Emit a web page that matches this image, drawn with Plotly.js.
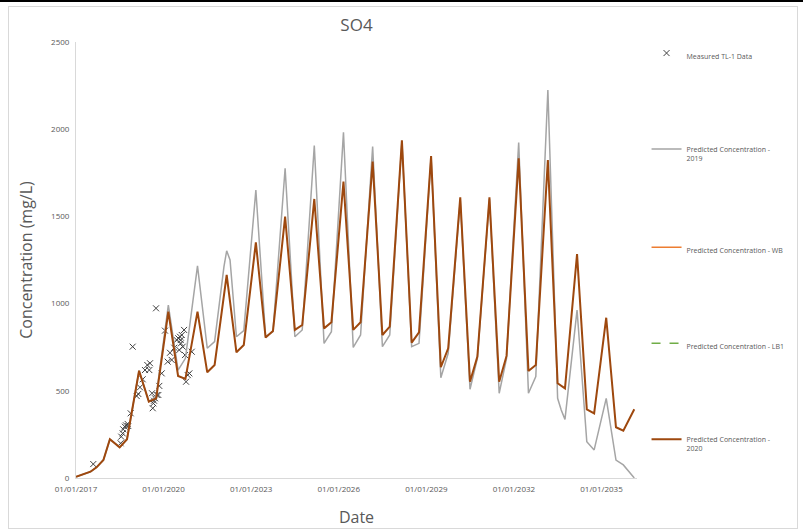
<!DOCTYPE html>
<html>
<head>
<meta charset="utf-8">
<script src="https://cdn.plot.ly/plotly-3.0.1.min.js"></script>
<style>
html,body{margin:0;padding:0;background:#fff;}
#wrap{position:relative;width:803px;height:529px;}
#chart{position:absolute;left:0;top:0;width:803px;height:529px;}
#topline{position:absolute;left:0;top:0;width:803px;height:2px;background:#000;pointer-events:none;}
#frame{position:absolute;left:8px;top:6px;width:788px;height:521px;border:1px solid #d9d9d9;pointer-events:none;}
</style>
</head>
<body>
<div id="wrap">
<div id="chart"></div>
<div id="frame"></div>
<div id="topline"></div>
</div>
<script>
// Measured TL-1 data
const measuredDates = ["2017-08-05","2018-07-13","2018-07-21","2018-08-08","2018-08-15","2018-09-05","2018-09-18","2018-10-09","2018-10-17","2018-11-16","2018-12-11","2019-01-30","2019-02-19","2019-03-12","2019-04-15","2019-05-14","2019-06-12","2019-07-16","2019-07-07","2019-08-10","2019-08-19","2019-08-27","2019-09-04","2019-09-17","2019-10-08","2019-10-28","2019-09-29","2019-11-09","2019-12-09","2020-01-19","2020-02-22","2020-03-22","2020-04-12","2020-05-15","2020-06-14","2020-07-04","2020-07-25","2020-08-03","2020-08-16","2020-09-14","2020-08-28","2020-09-26","2020-10-09","2020-10-30","2020-11-19","2020-12-19","2020-07-16","2020-08-05"];
const measuredValues = [80,199,237,256,279,294,302,310,298,371,753,470,482,520,566,619,648,658,619,486,400,428,443,457,476,476,973,528,600,845,667,718,677,747,791,801,810,791,820,849,753,705,552,590,600,724,734,772];

// Predicted Concentration - 2019
const pred2019Dates = ["2017-01-01","2017-07-01","2017-09-15","2017-12-10","2018-03-01","2018-07-01","2018-10-01","2019-03-01","2019-07-01","2019-10-01","2020-03-01","2020-07-01","2020-10-01","2021-03-01","2021-07-01","2021-10-01","2022-01-26","2022-03-01","2022-04-12","2022-07-01","2022-10-01","2023-03-01","2023-07-01","2023-10-01","2024-03-01","2024-07-01","2024-10-01","2025-03-01","2025-07-01","2025-10-01","2026-03-01","2026-07-01","2026-10-01","2027-03-01","2027-07-01","2027-10-01","2028-03-01","2028-07-01","2028-10-01","2029-03-01","2029-07-01","2029-10-01","2030-03-01","2030-07-01","2030-10-01","2031-03-01","2031-07-01","2031-10-01","2032-03-01","2032-07-01","2032-10-01","2033-03-01","2033-07-01","2033-08-15","2033-10-01","2034-03-01","2034-07-01","2034-10-01","2035-03-01","2035-07-01","2035-10-01","2036-02-15"];
const pred2019Values = [7,36,61,103,222,176,222,615,438,470,992,619,686,1216,744,782,1212,1303,1250,810,845,1651,810,839,1776,810,849,1906,772,839,1982,749,820,1900,753,820,1930,753,772,1840,575,715,1595,509,686,1600,486,686,1923,486,581,2225,457,390,336,963,208,161,457,103,75,0];

// Predicted Concentration - WB and LB1 (listed in legend, no values drawn in the plot)
const predWBDates = [null];
const predWBValues = [null];
const predLB1Dates = [null];
const predLB1Values = [null];

// Predicted Concentration - 2020
const pred2020Dates = ["2017-01-01","2017-07-01","2017-09-15","2017-12-10","2018-03-01","2018-07-01","2018-10-01","2019-03-01","2019-07-01","2019-10-01","2020-03-01","2020-07-01","2020-10-01","2021-03-01","2021-07-01","2021-10-01","2022-03-01","2022-07-01","2022-10-01","2023-03-01","2023-07-01","2023-10-01","2024-03-01","2024-07-01","2024-10-01","2025-03-01","2025-07-01","2025-10-01","2026-03-01","2026-07-01","2026-10-01","2027-03-01","2027-07-01","2027-10-01","2028-03-01","2028-07-01","2028-10-01","2029-03-01","2029-07-01","2029-10-01","2030-03-01","2030-07-01","2030-10-01","2031-03-01","2031-07-01","2031-10-01","2032-03-01","2032-07-01","2032-10-01","2033-03-01","2033-07-01","2033-10-01","2034-03-01","2034-07-01","2034-10-01","2035-03-01","2035-07-01","2035-10-01","2036-02-15"];
const pred2020Values = [7,36,61,103,222,176,222,615,438,457,954,585,568,954,606,648,1164,721,763,1351,805,843,1499,849,877,1600,858,893,1699,849,893,1814,820,868,1936,776,835,1846,635,744,1609,552,696,1609,552,700,1833,614,648,1823,543,514,1284,394,371,919,291,271,394];

const seriesNames = ["Measured TL-1 Data","Predicted Concentration -<br>2019","Predicted Concentration - WB","Predicted Concentration - LB1","Predicted Concentration -<br>2020"];

const FONT = "Open Sans, Liberation Sans, sans-serif";
const TXT = "#595959";

const traces = [
  {x: measuredDates, y: measuredValues, name: seriesNames[0], type: "scatter", mode: "markers",
   marker: {symbol: "x-thin", size: 6, color: "#404040", line: {width: 1, color: "#404040"}}, legendgroup: "g1"},
  {x: pred2019Dates, y: pred2019Values, name: seriesNames[1], type: "scatter", mode: "lines",
   line: {color: "#A5A5A5", width: 1.5}, legendgroup: "g2"},
  {x: predWBDates, y: predWBValues, name: seriesNames[2], type: "scatter", mode: "lines",
   line: {color: "#ED7D31", width: 1.5}, legendgroup: "g3"},
  {x: predLB1Dates, y: predLB1Values, name: seriesNames[3], type: "scatter", mode: "lines",
   line: {color: "#70AD47", width: 1.5, dash: "dash"}, legendgroup: "g4"},
  {x: pred2020Dates, y: pred2020Values, name: seriesNames[4], type: "scatter", mode: "lines",
   line: {color: "#9E480E", width: 2}, legendgroup: "g5"}
];

const layout = {
  width: 803, height: 529,
  margin: {l: 76, r: 166, t: 42, b: 51},
  paper_bgcolor: "#fff", plot_bgcolor: "#fff",
  font: {family: FONT, color: TXT, size: 8},
  title: {text: "SO4", font: {family: FONT, size: 17, color: TXT}, x: 0.5, xanchor: "center", y: 0.953, yanchor: "middle", xref: "paper"},
  xaxis: {
    type: "date", range: ["2017-01-01", "2036-03-20"],
    tick0: "2017-01-01", dtick: "M36", tickformat: "%d/%m/%Y",
    showgrid: false, zeroline: false, showline: true, linecolor: "#d9d9d9", linewidth: 1,
    ticks: "", ticklabelstandoff: 3, tickfont: {family: FONT, size: 8, color: TXT},
    title: {text: "Date", font: {family: FONT, size: 16, color: TXT}, standoff: 19}
  },
  yaxis: {
    range: [0, 2500], tick0: 0, dtick: 500,
    showgrid: false, zeroline: false, showline: true, linecolor: "#d9d9d9", linewidth: 1,
    ticks: "", ticklabelstandoff: 4, tickfont: {family: FONT, size: 8, color: TXT},
    title: {text: "Concentration (mg/L)", font: {family: FONT, size: 16, color: TXT}, standoff: 14}
  },
  showlegend: true,
  legend: {x: 1.017, xanchor: "left", y: 1, yanchor: "top", valign: "top",
    font: {family: FONT, size: 7, color: TXT}, tracegroupgap: 77, itemwidth: 30, bgcolor: "rgba(0,0,0,0)"}
};

Plotly.newPlot("chart", traces, layout, {displayModeBar: false, staticPlot: true});
</script>
</body>
</html>
